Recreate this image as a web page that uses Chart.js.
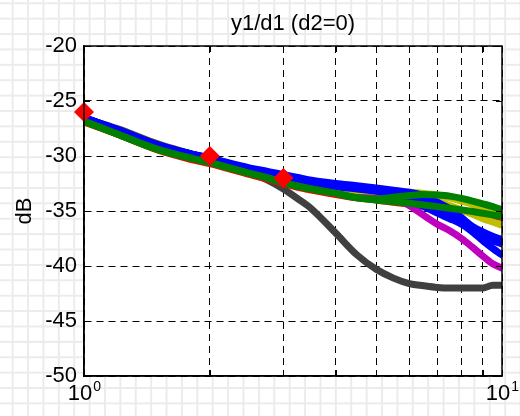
<!DOCTYPE html>
<html>
<head>
<meta charset="utf-8">
<script src="https://cdn.jsdelivr.net/npm/chart.js@4"></script>
<style>
  html, body { margin: 0; padding: 0; }
  body {
    width: 520px; height: 416px; overflow: hidden;
    background-color: #fff;
    background-image:
      linear-gradient(to right, #ebebeb 2px, transparent 2px),
      linear-gradient(to bottom, #ebebeb 2px, transparent 2px);
    background-size: 15.4px 15.4px;
    background-position: 11.7px 2.3px;
  }
  #wrap { position: relative; width: 520px; height: 416px; }
</style>
</head>
<body>
<div id="wrap"><canvas id="c" width="520" height="416"></canvas></div>
<script>
  // frequencies (log axis) shared by every curve
  const freqs = [1, 1.2, 1.5, 1.8, 2, 2.5, 2.75, 3, 3.25, 3.5, 4, 4.5, 5, 5.5, 6, 6.5, 7, 7.5, 8, 8.5, 9, 9.5, 10];

  // gain in dB
  const green1  = [-26.85, -28.0, -29.4, -30.2, -30.6, -31.6, -32.0, -32.4, -32.75, -33.0, -33.4, -33.8, -34.0, -34.15, -34.3, -34.45, -34.6, -34.75, -34.9, -35.05, -35.2, -35.35, -35.5];
  const green2  = [-26.85, -28.0, -29.4, -30.2, -30.6, -31.6, -32.0, -32.4, -32.75, -33.0, -33.4, -33.8, -33.9, -33.75, -33.6, -33.5, -33.55, -33.65, -33.85, -34.1, -34.35, -34.6, -34.9];
  const blue1   = [-26.5, -27.6, -29.0, -29.8, -30.2, -31.1, -31.4, -31.7, -31.95, -32.2, -32.5, -32.7, -32.9, -33.1, -33.3, -33.6, -34.2, -34.8, -35.6, -36.4, -36.9, -37.3, -37.6];
  const blue2   = [-26.5, -27.6, -29.0, -29.8, -30.2, -31.3, -31.6, -31.95, -32.25, -32.5, -32.8, -33.0, -33.2, -33.5, -34.0, -34.6, -35.2, -35.7, -36.2, -36.9, -37.7, -38.4, -39.0];
  const blue3   = [-26.5, -27.6, -29.0, -29.8, -30.2, -31.2, -31.5, -31.8, -32.05, -32.3, -32.6, -32.8, -33.0, -33.25, -33.7, -34.1, -34.7, -35.3, -35.9, -36.6, -37.2, -37.7, -38.0];
  const yellow1 = [-26.6, -27.7, -29.1, -29.9, -30.3, -31.3, -31.7, -32.0, -32.25, -32.5, -32.8, -33.0, -33.1, -33.2, -33.3, -33.4, -33.55, -33.8, -34.1, -34.4, -34.8, -35.2, -35.5];
  const yellow2 = [-26.6, -27.7, -29.1, -29.9, -30.3, -31.3, -31.7, -32.1, -32.4, -32.7, -33.0, -33.15, -33.2, -33.4, -33.6, -33.8, -34.1, -34.5, -34.9, -35.3, -35.7, -36.0, -36.3];
  const magenta = [-26.8, -27.9, -29.3, -30.1, -30.5, -31.5, -31.9, -32.3, -32.6, -32.9, -33.2, -33.4, -33.5, -33.7, -34.5, -35.4, -36.2, -36.8, -37.5, -38.3, -39.1, -39.8, -40.2];
  const red     = [-26.9, -28.0, -29.45, -30.3, -30.7, -31.7, -32.1, -32.5, -32.85, -33.1, -33.5, -33.8, -34.0, -34.2, -34.35, -34.5, -34.65, -34.8, -34.95, -35.1, -35.3, -35.45, -35.6];
  const gray    = [-26.6, -27.5, -28.9, -29.8, -30.3, -31.5, -32.2, -33.0, -33.9, -34.8, -37.0, -39.0, -40.3, -41.1, -41.6, -41.8, -41.95, -42.0, -42.0, -42.0, -42.0, -41.75, -41.75];

  // red diamond markers
  const markerX = [1, 2, 3];
  const markerY = [-26, -30, -32];

  const xTicks = [1, 2, 3, 4, 5, 6, 7, 8, 9, 10];
  const yTicks = [-50, -45, -40, -35, -30, -25, -20];
  const xLabelVals = [1, 10];
  const xLabelSup = ['0', '1'];

  const FONT = "'Liberation Sans', Arial, sans-serif";

  const pts = (ys) => freqs.map((f, i) => ({ x: f, y: ys[i] }));
  const curve = (ys, color) => ({
    data: pts(ys), borderColor: color, borderWidth: 7,
    pointRadius: 0, cubicInterpolationMode: 'monotone',
    borderCapStyle: 'round', borderJoinStyle: 'round'
  });

  // first dataset is drawn on top
  const datasets = [
    {
      data: markerX.map((x, i) => ({ x: x, y: markerY[i] })),
      showLine: false, pointStyle: 'rectRot', pointRadius: 10,
      pointBackgroundColor: '#ff0000', pointBorderColor: '#ff0000', pointBorderWidth: 0,
      clip: false
    },
    curve(green1, '#008000'),
    curve(green2, '#008000'),
    curve(blue1, '#0000ff'),
    curve(blue3, '#0000ff'),
    curve(blue2, '#0000ff'),
    curve(yellow1, '#bfbf00'),
    curve(yellow2, '#bfbf00'),
    curve(magenta, '#bf00bf'),
    curve(red, '#ff0000'),
    curve(gray, '#404040')
  ];

  const frame = {
    id: 'frame',
    beforeDraw(chart) {
      const { ctx, chartArea: a } = chart;
      ctx.save();
      ctx.fillStyle = '#fff';
      ctx.fillRect(a.left, a.top, a.right - a.left, a.bottom - a.top);
      ctx.restore();
    },
    afterDraw(chart) {
      const { ctx, chartArea: a, scales } = chart;
      ctx.save();
      ctx.strokeStyle = '#000';
      ctx.lineWidth = 1.5;
      ctx.strokeRect(a.left, a.top, a.right - a.left, a.bottom - a.top);
      // inward tick marks
      ctx.lineWidth = 1;
      ctx.beginPath();
      scales.x.ticks.forEach(t => {
        const px = Math.round(scales.x.getPixelForValue(t.value)) + 0.5;
        ctx.moveTo(px, a.bottom); ctx.lineTo(px, a.bottom - 6);
        ctx.moveTo(px, a.top); ctx.lineTo(px, a.top + 6);
      });
      scales.y.ticks.forEach(t => {
        const py = Math.round(scales.y.getPixelForValue(t.value)) + 0.5;
        ctx.moveTo(a.left, py); ctx.lineTo(a.left + 6, py);
        ctx.moveTo(a.right, py); ctx.lineTo(a.right - 6, py);
      });
      ctx.stroke();

      ctx.fillStyle = '#000';
      // x labels 10^0, 10^1
      xLabelVals.forEach((v, i) => {
        const px = scales.x.getPixelForValue(v);
        ctx.font = '22px ' + FONT;
        const w1 = ctx.measureText('10').width;
        ctx.font = '14px ' + FONT;
        const w2 = ctx.measureText(xLabelSup[i]).width;
        const start = px - (w1 + w2) / 2;
        ctx.textAlign = 'left';
        ctx.textBaseline = 'alphabetic';
        ctx.font = '22px ' + FONT;
        ctx.fillText('10', start, 400);
        ctx.font = '14px ' + FONT;
        ctx.fillText(xLabelSup[i], start + w1 + 1, 391);
      });

      // title
      ctx.font = '22px ' + FONT;
      ctx.textAlign = 'center';
      ctx.textBaseline = 'alphabetic';
      ctx.fillText('y1/d1 (d2=0)', (a.left + a.right) / 2, 30);

      // y axis title
      ctx.translate(31, (a.top + a.bottom) / 2);
      ctx.rotate(-Math.PI / 2);
      ctx.fillText('dB', 0, 0);
      ctx.restore();
    }
  };

  new Chart(document.getElementById('c'), {
    type: 'line',
    data: { datasets: datasets },
    options: {
      responsive: false,
      animation: false,
      layout: { padding: { left: 0, top: 46, right: 18, bottom: 40 } },
      plugins: { legend: { display: false }, tooltip: { enabled: false } },
      scales: {
        x: {
          type: 'logarithmic', min: 1, max: 10,
          afterBuildTicks: s => { s.ticks = xTicks.map(v => ({ value: v })); },
          ticks: { display: false },
          grid: { color: '#000', lineWidth: 1, drawTicks: false },
          border: { display: true, color: '#000', width: 1.5, dash: [7, 5] },
          afterFit: s => { s.height = 0; }
        },
        y: {
          min: -50, max: -20,
          afterBuildTicks: s => { s.ticks = yTicks.map(v => ({ value: v })); },
          ticks: { color: '#000', padding: 7, font: { family: FONT, size: 22 } },
          grid: { color: '#000', lineWidth: 1, drawTicks: false },
          border: { display: true, color: '#000', width: 1.5, dash: [7, 5] },
          afterFit: s => { s.width = 84; }
        }
      }
    },
    plugins: [frame]
  });
</script>
</body>
</html>
